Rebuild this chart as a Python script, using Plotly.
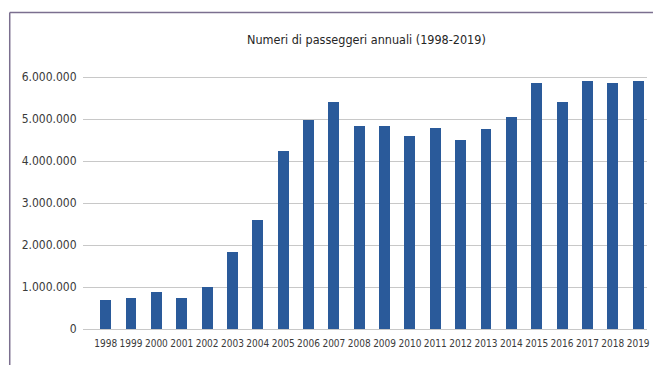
import plotly.graph_objects as go

years = [str(y) for y in range(1998, 2020)]
passengers = [680000, 750000, 870000, 750000, 1010000, 1840000, 2600000,
              4250000, 4985000, 5410000, 4840000, 4840000, 4600000, 4790000,
              4510000, 4770000, 5055000, 5865000, 5410000, 5913000, 5865000,
              5913000]
y_ticks = [0, 1000000, 2000000, 3000000, 4000000, 5000000, 6000000]
title_text = "Numeri di passeggeri annuali (1998-2019)"

W, H = 654, 365
plot_left, plot_right = 82.7, 650.0
zero_px, per_million = 329.3, 42.0
ymax = 6.1e6
top_px = zero_px - ymax / 1e6 * per_million

font_family = "DejaVu Sans Condensed, Liberation Sans Narrow, sans-serif"

fig = go.Figure()
fig.add_trace(go.Bar(
    x=list(range(len(years))), y=passengers,
    marker=dict(color="#2a5a9a", line=dict(width=0)),
    width=0.43,
))

pw = plot_right - plot_left
ph = zero_px - top_px

def px_to_paper_x(px):
    return (px - plot_left) / pw

def px_to_paper_y(py):
    return (zero_px - py) / ph

frame_col = "#7b6f8f"
fig.add_shape(type="line", xref="paper", yref="paper",
              x0=px_to_paper_x(9), x1=px_to_paper_x(656),
              y0=px_to_paper_y(12.5), y1=px_to_paper_y(12.5),
              line=dict(color=frame_col, width=1.5))
fig.add_shape(type="line", xref="paper", yref="paper",
              x0=px_to_paper_x(9), x1=px_to_paper_x(9),
              y0=px_to_paper_y(12.5), y1=px_to_paper_y(368),
              line=dict(color=frame_col, width=1.5))

fig.add_annotation(text=title_text, xref="paper", yref="paper",
                   x=px_to_paper_x(368), y=px_to_paper_y(40),
                   xanchor="center", yanchor="middle", showarrow=False,
                   font=dict(family=font_family, size=12.5, color="#262626"))

fig.update_layout(
    width=W, height=H,
    margin=dict(l=plot_left, r=W - plot_right, t=top_px, b=H - zero_px),
    paper_bgcolor="white", plot_bgcolor="white",
    separators=",.",
    showlegend=False,
    bargap=0,
    font=dict(family=font_family, color="#404040"),
)
fig.update_xaxes(
    range=[-0.894, 21.35],
    tickmode="array", tickvals=list(range(len(years))), ticktext=years,
    tickfont=dict(size=10, color="#3a3a3a", family=font_family),
    showgrid=False, zeroline=False, showline=False,
    ticks="outside", ticklen=5, tickcolor="rgba(0,0,0,0)",
    tickangle=0, ticklabeloverflow="allow",
)
fig.update_yaxes(
    range=[0, ymax],
    tickmode="array", tickvals=y_ticks,
    tickformat=",d",
    tickfont=dict(size=12, color="#3a3a3a", family=font_family),
    showgrid=True, gridcolor="#c8c8c8", gridwidth=1.2,
    zeroline=True, zerolinecolor="#c8c8c8", zerolinewidth=1.2,
    showline=False,
    ticks="outside", ticklen=3, tickcolor="rgba(0,0,0,0)",
)

fig.write_html("out.html")
